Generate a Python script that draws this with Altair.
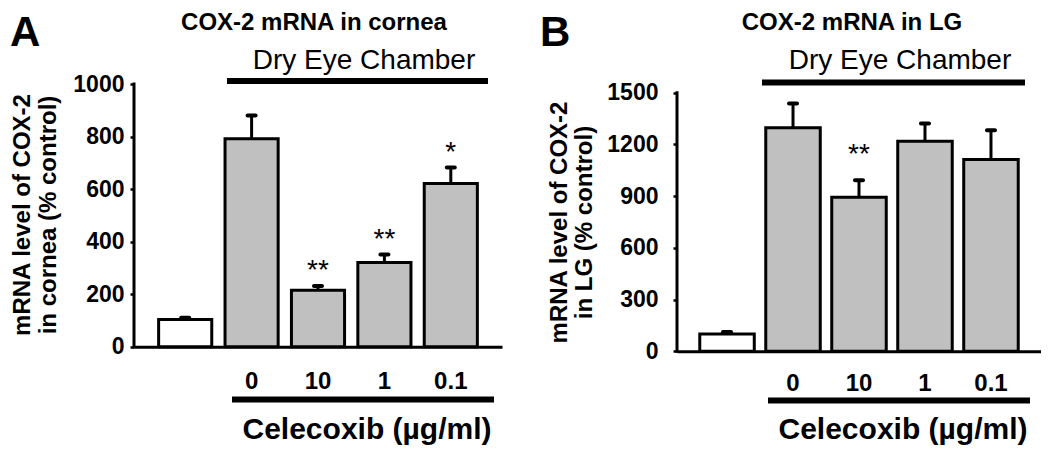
import altair as alt
import pandas as pd

# ---- data ----
groups = ["Control", "0", "10", "1", "0.1"]
kinds = ["control", "treated", "treated", "treated", "treated"]

cornea_mean = [104, 792, 215, 321, 621]
cornea_err = [7, 88, 16, 30, 61]
cornea_sig = ["", "", "**", "**", "*"]
cornea_ticks = [0, 200, 400, 600, 800, 1000]

lg_mean = [100, 1297, 894, 1219, 1113]
lg_err = [12, 141, 99, 103, 170]
lg_sig = ["", "", "**", "", ""]
lg_ticks = [0, 300, 600, 900, 1200, 1500]

FONT = "Liberation Sans"


def txt(t, x, y, size, weight="bold", align="center", baseline="middle", angle=0):
    return alt.Chart(pd.DataFrame({"t": [t]})).mark_text(
        fontSize=size, fontWeight=weight, align=align, baseline=baseline,
        angle=angle, color="black", font=FONT
    ).encode(x=alt.value(x), y=alt.value(y), text="t:N")


def hline(x1, x2, y, w=6, opacity=1):
    return alt.Chart(pd.DataFrame({"k": [0]})).mark_rule(
        strokeWidth=w, color="black", opacity=opacity
    ).encode(x=alt.value(x1), x2=alt.value(x2), y=alt.value(y))


def panel(letter, title, yt1, yt2, mean, err, sig, ticks, dom_max, width, height,
          pi, po, ylab_pad, xlab_pad, ann):
    df = pd.DataFrame({
        "group": groups,
        "kind": kinds,
        "mean": mean,
        "upper": [m + e for m, e in zip(mean, err)],
        "sig": sig,
    })
    yscale = alt.Scale(domain=[0, dom_max], nice=False, zero=True)
    yaxis = alt.Axis(title=None, values=ticks, format="d", domain=False, grid=False,
                     tickSize=4, tickWidth=2.5, tickColor="black",
                     labelFontSize=23, labelFontWeight="bold", labelFont=FONT,
                     labelColor="black", labelPadding=ylab_pad)
    xaxis = alt.Axis(title=None, labelAngle=0, ticks=False, tickSize=0,
                     labelExpr="datum.value == 'Control' ? '' : datum.value",
                     labelFontSize=24, labelFontWeight="bold", labelFont=FONT,
                     labelColor="black", labelPadding=xlab_pad,
                     domainWidth=3, domainColor="black", grid=False)
    xenc = alt.X("group:N", sort=groups,
                 scale=alt.Scale(paddingInner=pi, paddingOuter=po), axis=xaxis)
    base = alt.Chart(df)
    bars = base.mark_bar(stroke="black", strokeWidth=3).encode(
        x=xenc,
        y=alt.Y("mean:Q", scale=yscale, axis=yaxis),
        fill=alt.Fill("kind:N", scale=alt.Scale(domain=["control", "treated"],
                                                range=["white", "#c0c0c0"]),
                      legend=None),
    )
    stem = base.mark_rule(strokeWidth=3, color="black").encode(
        x=xenc,
        y=alt.Y("mean:Q", scale=yscale, axis=yaxis),
        y2="upper:Q",
    )
    cap = base.mark_tick(size=12, thickness=4, color="black", cornerRadius=2, opacity=1).encode(
        x=xenc,
        y=alt.Y("upper:Q", scale=yscale, axis=yaxis),
    )
    stars = base.mark_text(fontSize=28, fontWeight="normal", baseline="alphabetic",
                           dy=ann["star_dy"], color="black", font=FONT).encode(
        x=xenc,
        y=alt.Y("upper:Q", scale=yscale, axis=yaxis),
        text="sig:N",
    )
    yline = alt.Chart(pd.DataFrame({"y0": [0], "y1": [ticks[-1]]})).mark_rule(
        strokeWidth=3, color="black", strokeCap="square"
    ).encode(x=alt.value(0), y=alt.Y("y0:Q", scale=yscale, axis=yaxis), y2="y1:Q")

    layers = [
        bars, stem, cap, stars, yline,
        # invisible anchor fixing the top-left corner of the layout
        hline(-125.5, -120, -76, w=1, opacity=0),
        txt(letter, ann["letter_x"], -71, 42, align="left", baseline="top"),
        txt(title, ann["title_x"], -61.5, 24),
        txt("Dry Eye Chamber", ann["dry_x"], -23.5, 28, weight="normal"),
        hline(ann["top_x1"], ann["top_x2"], ann["top_y"]),
        hline(ann["bot_x1"], ann["bot_x2"], ann["bot_y"]),
        txt("Celecoxib (µg/ml)", ann["cel_x"], 345.5, 30),
        txt(yt1, ann["yt1_x"], ann["yt_y"], 24, angle=270),
        txt(yt2, ann["yt2_x"], ann["yt_y"], 24, angle=270),
    ]
    return alt.layer(*layers).properties(width=width, height=height)


annA = dict(star_dy=-7, letter_x=-124, title_x=180, dry_x=230, top_x1=93, top_x2=354,
            top_y=-3, bot_x1=98, bot_x2=360, bot_y=315.5, cel_x=233,
            yt1_x=-111, yt2_x=-85, yt_y=131)
annB = dict(star_dy=-17, letter_x=-137, title_x=175, dry_x=223, top_x1=85, top_x2=348,
            top_y=-1.5, bot_x1=91, bot_x2=353, bot_y=316.5, cel_x=226,
            yt1_x=-117, yt2_x=-92, yt_y=138.5)

pA = panel("A", "COX-2 mRNA in cornea", "mRNA level of COX-2", "in cornea (% control)",
           cornea_mean, cornea_err, cornea_sig, cornea_ticks, 1000, 368, 262.8,
           0.2, 0.371, 6, 23, annA)
pB = panel("B", "COX-2 mRNA in LG", "mRNA level of COX-2", "in LG (% control)",
           lg_mean, lg_err, lg_sig, lg_ticks, 1551, 364, 267.2,
           0.174, 0.345, 15, 20.5, annB)

chart = alt.hconcat(pA, pB, spacing=175, bounds="flush").properties(
    padding=0
).configure(font=FONT).configure_view(stroke=None)

chart.save("out.html", embed_options={"renderer": "svg", "actions": False})
